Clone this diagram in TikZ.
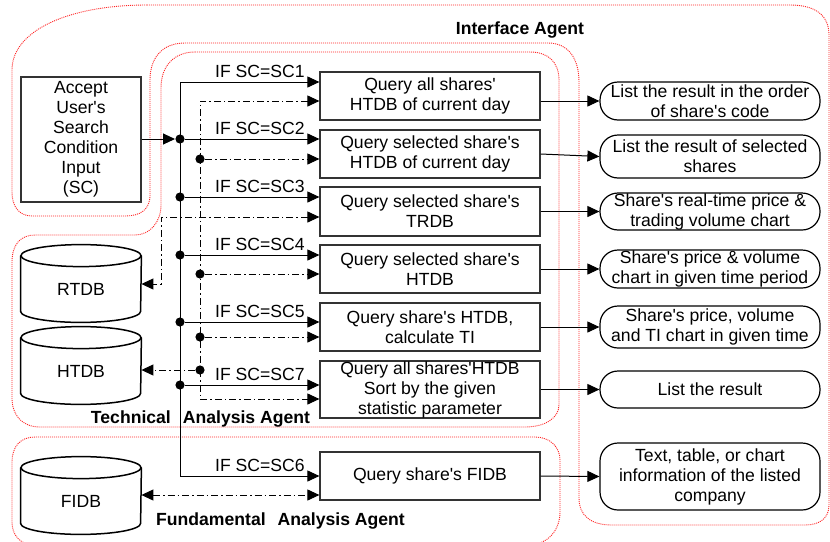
\documentclass[tikz,border=0pt]{standalone}
\usepackage{fontspec}
\setmainfont{Liberation Sans}[Ligatures=TeXOff]
\usetikzlibrary{arrows.meta,calc}

\begin{document}
\begin{tikzpicture}[x=0.5pt,y=-0.5pt,
  >={Triangle[length=6pt,width=5.5pt]},
  txt/.style={font=\fontsize{8.8}{10}\selectfont, align=center, inner sep=0pt},
  ttl/.style={font=\fontsize{8.8}{10}\selectfont\bfseries, inner sep=0pt, anchor=base},
  qbox/.style={txt, draw=black!80, line width=0.6pt, minimum width=110pt, minimum height=24pt},
  obox/.style={txt, draw=black, line width=0.6pt, rounded corners=9pt, minimum width=110pt},
  dbnode/.style={txt, minimum width=60pt, minimum height=33pt},
  cyl/.style={draw=black, line width=0.75pt},
  dot/.style={circle, fill=black, inner sep=0pt, minimum size=4.6pt},
  conn/.style={draw=black, line width=0.5pt},
  dd/.style={conn, dash pattern=on 3.5pt off 1.5pt on 0.75pt off 1.5pt},
  region/.style={draw=red!85, line width=0.45pt, dash pattern=on 0.5pt off 0.5pt},
  cond/.style={txt, anchor=base east}
]
\useasboundingbox (0,0) rectangle (830,541);
\fill[white] (0,0) rectangle (830,541);

% agent regions
\draw[region] (147,5) -- (790,5) .. controls (815,5) and (829,15) .. (829,35)
  -- (829,505) .. controls (829,518) and (820,525) .. (805,525)
  -- (612,525) .. controls (590,525) and (579,515) .. (579,498)
  -- (579,82) .. controls (579,58) and (568,43) .. (548,43)
  -- (185,43) .. controls (162,43) and (150,58) .. (150,80)
  -- (150,195) .. controls (150,210) and (140,216) .. (125,216)
  -- (32,216) .. controls (18,216) and (12,205) .. (12,192)
  -- (12,70) .. controls (12,30) and (70,5) .. (147,5) -- cycle;
\draw[region] (195,52) -- (530,52) .. controls (548,52) and (559,62) .. (559,80)
  -- (559,405) .. controls (559,418) and (545,427) .. (525,427)
  -- (40,427) .. controls (22,427) and (12,415) .. (12,398)
  -- (12,262) .. controls (12,245) and (20,235) .. (35,235)
  -- (135,235) .. controls (150,235) and (161,222) .. (161,205)
  -- (161,88) .. controls (161,65) and (175,52) .. (195,52) -- cycle;
\draw[region] (35,545) .. controls (20,545) and (12,535) .. (12,522)
  -- (12,462) .. controls (12,447) and (20,437) .. (35,437)
  -- (535,437) .. controls (550,437) and (560,447) .. (560,460)
  -- (560,512) .. controls (560,530) and (548,545) .. (528,545) -- cycle;

% titles
\node[ttl] (tia) at (520,34) {Interface Agent};
\node[ttl] (tta) at (200.5,423) {Technical\hspace{6pt}Analysis Agent};
\node[ttl] (tfa) at (280.5,525) {Fundamental\hspace{6pt}Analysis Agent};

% input
\node[qbox, minimum width=60pt, minimum height=62.5pt] (acc) at (81,139.5)
  {Accept\\User's\\Search\\Condition\\Input\\(SC)};

% query boxes
\node[qbox] (b1) at (430,96) {Query all shares'\\HTDB of current day};
\node[qbox] (b2) at (430,154) {Query selected share's\\HTDB of current day};
\node[qbox, minimum height=24.5pt] (b3) at (430,211.5) {Query selected share's\\TRDB};
\node[qbox] (b4) at (430,269) {Query selected share's\\HTDB};
\node[qbox] (b5) at (430,327) {Query share's HTDB,\\calculate TI};
\node[qbox, minimum height=28.5pt] (b7) at (430,389.5) {Query all shares'HTDB\\Sort by the given\\statistic parameter};
\node[qbox] (b6) at (430,476) {Query share's FIDB};

% output boxes
\node[obox, minimum height=19pt] (o1) at (710,101) {List the result in the order\\of share's code};
\node[obox, minimum height=21.5pt] (o2) at (710,156.5) {List the result of selected\\shares};
\node[obox, minimum height=18.5pt] (o3) at (710,211.5) {Share's real-time price \&\\trading volume chart};
\node[obox, minimum height=19pt] (o4) at (710,269) {Share's price \& volume\\chart in given time period};
\node[obox, minimum height=21pt] (o5) at (710,327) {Share's price, volume\\and TI chart in given time};
\node[obox, minimum height=18.5pt] (o6) at (710,389.5) {List the result};
\node[obox, minimum height=33.5pt] (o7) at (710,476.5) {Text, table, or chart\\information of the listed\\company};

% databases
\node[dbnode] (rtdb) at (81,289) {RTDB};
\node[dbnode] (htdb) at (81,371) {HTDB};
\node[dbnode] (fidb) at (81,501) {FIDB};
\foreach \db in {rtdb,htdb,fidb}{
  \draw[cyl] (\db.north) ellipse [x radius=30pt, y radius=5.5pt];
  \draw[cyl] (\db.north west) -- ($(\db.south west)+(0,-11)$)
    arc [start angle=180, end angle=360, x radius=30pt, y radius=5.5pt]
    -- (\db.north east);
}

% condition bus
\coordinate (t1) at (180,82);
\coordinate (t6) at (180,476);
\node[dot] (j2) at (180,139) {};
\node[dot] (j3) at (180,197) {};
\node[dot] (j4) at (180,255) {};
\node[dot] (j5) at (180,322) {};
\node[dot] (j7) at (180,385) {};
\draw[conn,<->] (t1 -| b1.west) -- (t1) -- (t6) -- (t6 -| b6.west);
\foreach \j/\b in {j2/b2,j3/b3,j4/b4,j5/b5,j7/b7}
  \draw[conn,->] (\j) -- (\j -| \b.west);
\draw[conn,->] (acc.east |- j2) -- (j2.west);

% condition labels
\node[cond] (l1) at (305,77.5) {IF SC=SC1};
\node[cond] (l2) at (305,134.5) {IF SC=SC2};
\node[cond] (l3) at (305,192.5) {IF SC=SC3};
\node[cond] (l4) at (305,250.5) {IF SC=SC4};
\node[cond] (l5) at (305,317.5) {IF SC=SC5};
\node[cond] (l7) at (305,380.5) {IF SC=SC7};
\node[cond] (l6) at (305,471.5) {IF SC=SC6};

% data access bus
\coordinate (d1) at (200,101);
\coordinate (d7) at (200,399);
\node[dot] (d2) at (200,159) {};
\node[dot] (d4) at (200,274) {};
\node[dot] (d5) at (200,337) {};
\node[dot] (dh) at (200,370) {};
\draw[dd,<->] (d1 -| b1.west) -- (d1) -- (d7) -- (d7 -| b7.west);
\foreach \d/\b in {d2/b2,d4/b4,d5/b5}
  \draw[dd,->] (\d) -- (\d -| \b.west);
\draw[dd,->] (dh) -- (dh -| htdb.east);

% real-time database access
\coordinate (r1) at (161,217);
\coordinate (r2) at (161,284);
\draw[dd,<->] (r1 -| b3.west) -- (r1) -- (r2) -- (r2 -| rtdb.east);

% fundamental database access
\coordinate (fd) at (250,495);
\draw[dd,<->] (fd -| fidb.east) -- (fd -| b6.west);

% results
\draw[conn,->] (o1.west -| b1.east) -- (o1.west);
\foreach \b/\o in {b2/o2,b3/o3,b4/o4,b5/o5,b7/o6,b6/o7}
  \draw[conn,->] (\b.east) -- (\o.west);
\end{tikzpicture}
\end{document}
